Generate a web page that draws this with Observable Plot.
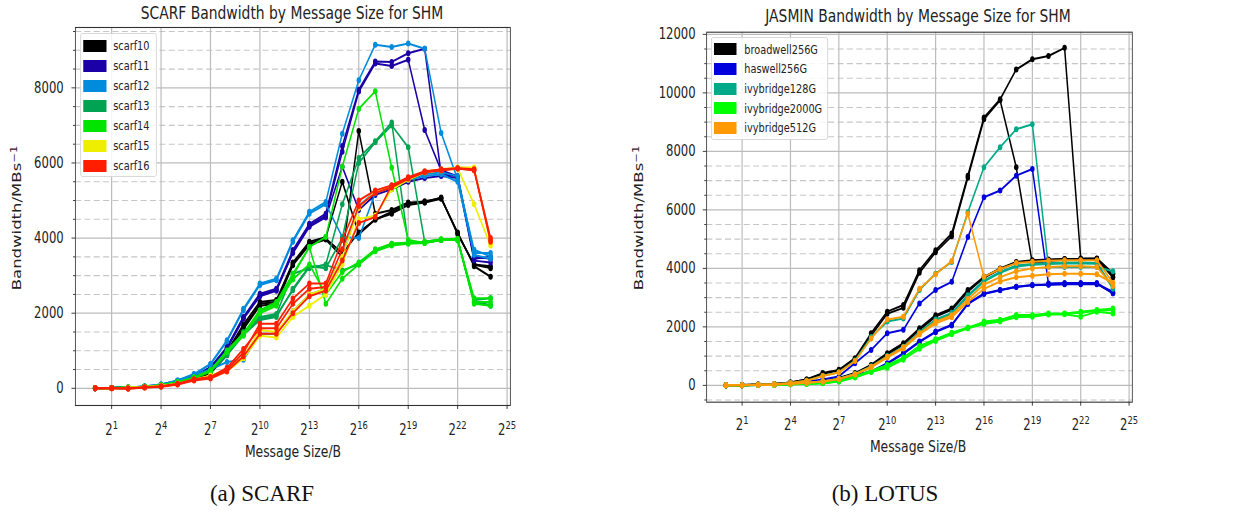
<!DOCTYPE html>
<html>
<head>
<meta charset="utf-8">
<script src="https://cdn.jsdelivr.net/npm/d3@7"></script>
<script src="https://cdn.jsdelivr.net/npm/@observablehq/plot@0.6"></script>
<style>
html, body { margin: 0; padding: 0; background: #fff; }
#page { position: relative; width: 1242px; height: 514px; overflow: hidden; font-family: "DejaVu Sans", sans-serif; }
#inner { position: absolute; left: 0; top: 0; height: 514px; transform-origin: 0 0; }
.chart { position: absolute; top: 0; }
.lbl { position: absolute; white-space: nowrap; color: #222; transform: translate(-50%, -50%); line-height: 1; }
.ylbl { position: absolute; white-space: nowrap; color: #222; transform: translate(-50%, -50%) rotate(-90deg); line-height: 1; }
.cap { position: absolute; white-space: nowrap; font-family: "Liberation Serif", serif; font-size: 23px; color: #111; transform: translate(-50%, -50%); line-height: 1; }
.legend { position: absolute; background: rgba(255,255,255,0.85); border: 1px solid #d4d4d4; border-radius: 3px; box-sizing: border-box; }
.legend .row { position: absolute; left: 0; height: 0; }
.legend .sw { position: absolute; height: 12px; top: -6px; }
.legend .tx { position: absolute; top: -7.5px; font-size: 13px; line-height: 15px; color: #222; white-space: nowrap; }
sup { font-size: 0.7em; vertical-align: 0.45em; line-height: 0; }
</style>
</head>
<body>
<div id="page">
  <div id="inner">
    <div id="left" class="chart"></div>
    <div id="right" class="chart"></div>
    <div id="titleL" class="lbl" style="top:13px; font-size:18.5px;">SCARF Bandwidth by Message Size for SHM</div>
    <div id="titleR" class="lbl" style="top:16px; font-size:18.5px;">JASMIN Bandwidth by Message Size for SHM</div>
    <div id="ylabL" class="ylbl" style="top:218px; font-size:16.5px;">Bandwidth/MBs<sup>−1</sup></div>
    <div id="ylabR" class="ylbl" style="top:218px; font-size:16.5px;">Bandwidth/MBs<sup>−1</sup></div>
    <div id="xlabL" class="lbl" style="top:452px; font-size:16.5px;">Message Size/B</div>
    <div id="xlabR" class="lbl" style="top:447px; font-size:16.5px;">Message Size/B</div>
    <div id="legL" class="legend" style="top:33px; height:144px;"></div>
    <div id="legR" class="legend" style="top:37px; height:103px;"></div>
  </div>
  <div class="cap" style="left:262px; top:493px;">(a) SCARF</div>
  <div class="cap" style="left:885px; top:493px;">(b) LOTUS</div>
</div>
<script>
// ---------- shared x values (message sizes, bytes) ----------
const sizes = [1, 2, 4, 8, 16, 32, 64, 128, 256, 512, 1024, 2048, 4096, 8192, 16384, 32768,
  65536, 131072, 262144, 524288, 1048576, 2097152, 4194304, 8388608, 16777216];
const xTickValues = [2, 16, 128, 1024, 8192, 65536, 524288, 4194304, 33554432];

// ---------- SCARF ----------
const scarfMachines = ["scarf10", "scarf11", "scarf12", "scarf13", "scarf14", "scarf15", "scarf16"];
const scarfColors = ["#000000", "#1b00a7", "#008bdd", "#00a352", "#00e400", "#eeee00", "#ff1f00"];
const scarf10 = [
  [0, 8, 20, 40, 75, 140, 250, 420, 920, 1630, 2250, 2300, 3320, 3850, 3990, 3600, 4150, 4490, 4700, 4930, 4980, 5060, 4130, 3290, 3200],
  [0, 10, 22, 45, 80, 150, 270, 450, 980, 1700, 2300, 2350, 3350, 3900, 4020, 5500, 4100, 4500, 4650, 4880, 4950, 5050, 4150, 3250, 2970],
  [0, 6, 18, 38, 70, 135, 240, 400, 880, 1580, 2200, 2250, 3280, 3820, 3960, 3500, 6850, 4650, 4750, 4950, 4950, 5080, 4100, 3300, 3250]
];
const scarf11 = [
  [0, 8, 20, 45, 85, 180, 320, 560, 1100, 1900, 2520, 2650, 3680, 4380, 4650, 6450, 7950, 8700, 8690, 8920, 9040, 5700, 5650, 3450, 3500],
  [0, 8, 20, 45, 85, 175, 310, 550, 1080, 1880, 2480, 2620, 3620, 4330, 4600, 6300, 7900, 8650, 8580, 8750, 6880, 5800, 5650, 3500, 3450],
  [0, 8, 20, 45, 85, 178, 315, 555, 1050, 1850, 2450, 2600, 3600, 4300, 4550, 5900, 4750, 5150, 5300, 5500, 5600, 5650, 5600, 3400, 3350]
];
const scarf12 = [
  [0, 10, 22, 50, 100, 210, 380, 650, 1280, 2120, 2790, 2920, 3940, 4700, 4960, 6780, 8200, 9150, 9090, 9180, 9040, 6800, 5560, 3690, 3510],
  [0, 10, 22, 50, 100, 205, 370, 640, 1250, 2080, 2750, 2880, 3900, 4650, 4900, 4030, 4000, 5200, 5350, 5550, 5700, 5750, 5650, 3600, 3600],
  [0, 10, 22, 50, 100, 200, 360, 500, 700, 760, 1450, 1450, 2050, 2500, 2650, 3500, 4850, 5250, 5400, 5550, 5650, 5700, 5500, 3550, 3450]
];
const scarf13 = [
  [0, 8, 18, 40, 75, 150, 270, 450, 900, 1450, 1850, 1940, 2610, 3230, 3280, 3140, 3300, 3680, 3850, 3870, 3880, 3950, 3950, 2300, 2220],
  [0, 8, 18, 40, 75, 150, 270, 460, 950, 1500, 1900, 1980, 3050, 3200, 3300, 4900, 6130, 6580, 7080, 3870, 3880, 3950, 3960, 2350, 2400],
  [0, 8, 18, 40, 75, 150, 270, 440, 880, 1420, 1820, 1900, 2650, 3250, 3200, 4000, 6000, 6550, 7000, 6420, 3900, 3960, 3950, 2280, 2200]
];
const scarf14 = [
  [0, 8, 20, 45, 80, 160, 290, 480, 1010, 1460, 2080, 2300, 3050, 3760, 4030, 5900, 7440, 7910, 5870, 3950, 3870, 3950, 3950, 2250, 2200],
  [0, 8, 20, 45, 80, 160, 285, 470, 980, 1430, 2050, 2250, 3000, 3760, 2250, 2920, 3300, 3650, 3800, 3850, 3870, 3950, 3950, 2400, 2400],
  [0, 8, 20, 45, 80, 155, 280, 460, 960, 1400, 2000, 2200, 2900, 3300, 2500, 3100, 3350, 3700, 3850, 3880, 3900, 3970, 3980, 2300, 2300]
];
const scarf15 = [
  [0, 5, 15, 35, 60, 120, 220, 330, 450, 800, 1400, 1350, 1900, 2200, 2500, 3300, 4500, 4600, 5300, 5550, 5750, 5800, 5850, 4900, 3800],
  [0, 5, 15, 35, 60, 125, 230, 340, 480, 850, 1550, 1500, 2050, 2500, 2650, 3500, 4800, 5250, 5400, 5600, 5750, 5830, 5880, 5880, 3850]
];
const scarf16 = [
  [0, 0, -5, 25, 50, 110, 230, 280, 500, 950, 1720, 1720, 2390, 2790, 2790, 3950, 5000, 5270, 5400, 5620, 5780, 5820, 5850, 5820, 3950],
  [0, 0, -10, 20, 45, 100, 210, 260, 450, 850, 1450, 1450, 2000, 2450, 2600, 3400, 4400, 4560, 5400, 5600, 5750, 5800, 5850, 5800, 3900],
  [0, 5, 0, 30, 55, 120, 240, 300, 550, 1050, 1600, 1600, 2250, 2650, 2700, 3700, 4850, 5200, 5350, 5580, 5760, 5830, 5860, 5830, 4000]
];
const scarfMajorY = [0, 2000, 4000, 6000, 8000];
const scarfMinorY = [500, 1000, 1500, 2500, 3000, 3500, 4500, 5000, 5500, 6500, 7000, 7500, 8500, 9000, 9500];

// ---------- JASMIN ----------
const jasminMachines = ["broadwell256G", "haswell256G", "ivybridge128G", "ivybridge2000G", "ivybridge512G"];
const jasminColors = ["#000000", "#0000dd", "#00aa88", "#00ff00", "#ff9900"];
const broadwell256G = [
  [0, 10, 30, 50, 100, 200, 420, 530, 930, 1780, 2520, 2750, 3940, 4620, 5190, 7170, 9160, 9780, 10800, 11150, 11260, 11540, 4340, 4340, 3830],
  [0, 10, 30, 50, 100, 200, 400, 510, 900, 1700, 2450, 2650, 3850, 4550, 5100, 7100, 9100, 9750, 7460, 4170, 4250, 4300, 4300, 4320, 3700],
  [0, 5, 20, 30, 60, 100, 150, 250, 420, 700, 1100, 1440, 1950, 2400, 2630, 3260, 3710, 4000, 4220, 4280, 4300, 4320, 4320, 4330, 3700],
  [0, 5, 20, 30, 60, 100, 140, 240, 400, 680, 1050, 1400, 1900, 2350, 2580, 3200, 3680, 3980, 4200, 4260, 4290, 4310, 4310, 4320, 3800]
];
const haswell256G = [
  [0, 5, 20, 30, 60, 120, 200, 306, 760, 1210, 1780, 1900, 2800, 3260, 3540, 5070, 6430, 6660, 7170, 7400, 3480, 3500, 3500, 3500, 3150],
  [0, 5, 15, 25, 50, 80, 120, 200, 350, 480, 760, 1100, 1500, 1840, 2070, 2800, 3140, 3260, 3370, 3430, 3450, 3470, 3470, 3470, 3150],
  [0, 5, 15, 25, 50, 80, 120, 200, 340, 470, 740, 1080, 1480, 1820, 2050, 2780, 3120, 3250, 3360, 3420, 3440, 3460, 3460, 3460, 3200]
];
const ivybridge128G = [
  [0, 8, 25, 40, 80, 160, 330, 450, 850, 1650, 2180, 2290, 3260, 3820, 4220, 5920, 7460, 8140, 8760, 8930, 4050, 4050, 4050, 4050, 3900],
  [0, 5, 18, 28, 55, 90, 135, 230, 390, 650, 1000, 1320, 1820, 2250, 2480, 3080, 3580, 3880, 4100, 4150, 4180, 4200, 4200, 4180, 3350],
  [0, 5, 18, 28, 55, 90, 135, 225, 380, 630, 980, 1300, 1790, 2220, 2450, 3040, 3550, 3850, 4060, 4120, 4150, 4170, 4170, 4160, 3300]
];
const ivybridge2000G = [
  [0, 5, 10, 15, 35, 55, 80, 140, 300, 480, 650, 930, 1330, 1560, 1780, 1950, 2180, 2240, 2410, 2410, 2460, 2460, 2520, 2580, 2630],
  [0, 5, 10, 15, 35, 50, 75, 130, 270, 460, 600, 880, 1250, 1520, 1750, 1950, 2100, 2180, 2330, 2350, 2420, 2430, 2350, 2520, 2460],
  [0, 5, 10, 15, 35, 55, 80, 135, 290, 500, 700, 950, 1350, 1580, 1800, 1980, 2150, 2220, 2380, 2380, 2440, 2450, 2480, 2550, 2580]
];
const ivybridge512G = [
  [0, 8, 25, 40, 80, 160, 320, 440, 830, 1600, 2250, 2350, 3300, 3800, 4250, 5870, 3710, 3980, 4180, 4230, 4260, 4280, 4280, 4280, 3500],
  [0, 5, 18, 28, 55, 90, 130, 220, 380, 640, 980, 1300, 1780, 2180, 2400, 2950, 3450, 3700, 3900, 4000, 4050, 4070, 4070, 4050, 3400],
  [0, 5, 18, 28, 55, 90, 130, 215, 370, 620, 950, 1260, 1740, 2120, 2330, 2850, 3300, 3550, 3700, 3750, 3800, 3820, 3820, 3800, 3500]
];
const jasminMajorY = [0, 2000, 4000, 6000, 8000, 10000, 12000];
const jasminMinorY = [-500, 500, 1000, 1500, 2500, 3000, 3500, 4500, 5000, 5500, 6500, 7000, 7500, 8500, 9000, 9500, 10500, 11000, 11500];

// ---------- layout: figure content is horizontally condensed like the reference ----------
const C = 0.75;                 // horizontal condensation factor
const X = v => v / C;           // page px -> inner px
const inner = document.getElementById("inner");
inner.style.width = X(1242) + "px";
inner.style.transform = "scaleX(" + C + ")";

function place(id, realX) { document.getElementById(id).style.left = X(realX) + "px"; }
place("titleL", 292); place("titleR", 918);
place("ylabL", 17.5); place("ylabR", 639);
place("xlabL", 293); place("xlabR", 918);

function rows(machine, runIndex, vals) {
  return vals.map((v, i) => ({machine, run: machine + "-" + runIndex, size: sizes[i], bw: v}));
}
const scarfRuns = [scarf10, scarf11, scarf12, scarf13, scarf14, scarf15, scarf16];
const jasminRuns = [broadwell256G, haswell256G, ivybridge128G, ivybridge2000G, ivybridge512G];

function makeChart(cfg) {
  const seriesMarks = [];
  cfg.machines.forEach((m, k) => {
    cfg.runs[k].forEach((vals, r) => {
      const d = rows(m, r, vals);
      seriesMarks.push(Plot.line(d, {x: "size", y: "bw", stroke: "machine", strokeWidth: 2.0}));
      seriesMarks.push(Plot.dot(d, {x: "size", y: "bw", fill: "machine", r: 3}));
    });
  });
  const width = X(cfg.right - cfg.left);
  const svg = Plot.plot({
    width, height: cfg.height,
    marginLeft: X(cfg.frameL - cfg.left), marginRight: X(cfg.right - cfg.frameR),
    marginTop: cfg.mt, marginBottom: cfg.height - cfg.frameB,
    style: {fontFamily: "DejaVu Sans", fontSize: cfg.fontSize + "px", color: "#222", background: "transparent", overflow: "visible"},
    x: {type: "log", base: 2, domain: [Math.pow(2, -1.2), Math.pow(2, 25.2)], label: null},
    y: {domain: cfg.yDomain, label: null},
    color: {domain: cfg.machines, range: cfg.colors},
    marks: [
      Plot.ruleY(cfg.minorY, {stroke: "#c6c6c6", strokeWidth: 1.1, strokeDasharray: "8,4.5"}),
      Plot.ruleY(cfg.majorY, {stroke: "#bcbcbc", strokeWidth: 1.2}),
      Plot.ruleX(xTickValues, {stroke: "#bcbcbc", strokeWidth: 1.6}),
      ...seriesMarks,
      Plot.frame({stroke: "#333", strokeWidth: 1.1}),
      Plot.axisX({ticks: xTickValues, tickFormat: d => "2^" + Math.round(Math.log2(d)), tickSize: 4, tickPadding: cfg.xPad, label: null}),
      Plot.axisY({ticks: cfg.majorY, tickSize: X(3.5), tickPadding: cfg.yPad, tickFormat: d => String(d), label: null}),
      Plot.axisY({ticks: cfg.minorY, tickSize: X(2), tickFormat: () => "", label: null})
    ]
  });
  svg.querySelectorAll("text").forEach(t => {
    const m = /^2\^(\d+)$/.exec(t.textContent);
    if (m) {
      t.textContent = "2";
      const ts = document.createElementNS("http://www.w3.org/2000/svg", "tspan");
      ts.setAttribute("font-size", "0.72em");
      ts.setAttribute("dy", "-0.55em");
      ts.textContent = m[1];
      t.appendChild(ts);
    }
  });
  const holder = document.getElementById(cfg.id);
  holder.style.left = X(cfg.left) + "px";
  holder.appendChild(svg);
}

makeChart({
  id: "left", machines: scarfMachines, colors: scarfColors, runs: scarfRuns,
  left: 0, right: 620, frameL: 75, frameR: 510, mt: 27, frameB: 405, height: 470,
  yDomain: [-457, 9607], majorY: scarfMajorY, minorY: scarfMinorY,
  fontSize: 15.5, xPad: 15, yPad: X(8.2)
});
makeChart({
  id: "right", machines: jasminMachines, colors: jasminColors, runs: jasminRuns,
  left: 620, right: 1242, frameL: 706, frameR: 1131.7, mt: 31.7, frameB: 401.7, height: 470,
  yDomain: [-575, 12075], majorY: jasminMajorY, minorY: jasminMinorY,
  fontSize: 15.5, xPad: 13.3, yPad: X(7.5)
});

// ---------- legends ----------
function legend(id, realLeft, realWidth, names, colors, firstY, step, swW) {
  const el = document.getElementById(id);
  el.style.left = X(realLeft) + "px";
  el.style.width = X(realWidth) + "px";
  names.forEach((n, i) => {
    const row = document.createElement("div");
    row.className = "row";
    row.style.top = (firstY + i * step) + "px";
    const sw = document.createElement("div");
    sw.className = "sw";
    sw.style.left = X(2.5) + "px";
    sw.style.width = X(swW) + "px";
    sw.style.background = colors[i];
    const tx = document.createElement("div");
    tx.className = "tx";
    tx.style.left = X(32.5) + "px";
    tx.textContent = n;
    row.appendChild(sw); row.appendChild(tx);
    el.appendChild(row);
  });
}
legend("legL", 80, 77, scarfMachines, scarfColors, 11.7, 20, 23);
legend("legR", 711, 117, jasminMachines, jasminColors, 11.3, 19.6, 22);
</script>
</body>
</html>
